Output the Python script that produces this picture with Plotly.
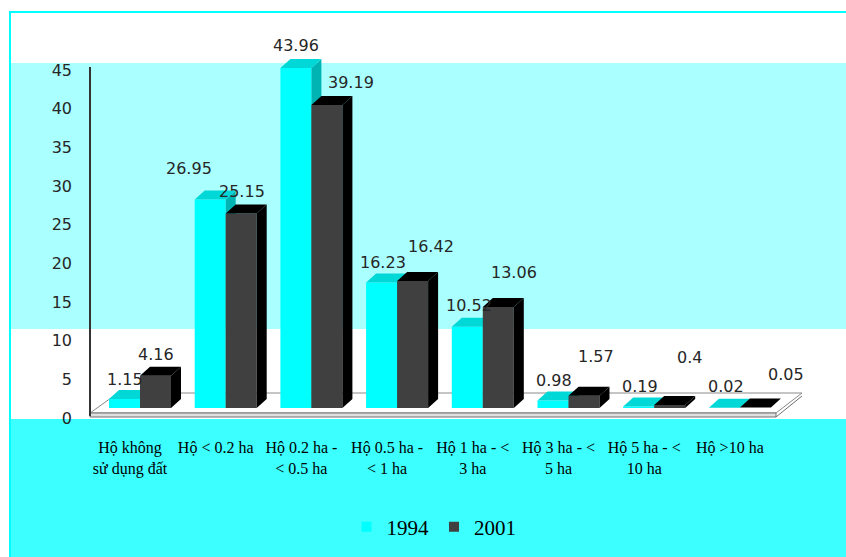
import plotly.graph_objects as go

# ---------------- data ----------------
categories = ["Hộ không\nsử dụng đất", "Hộ < 0.2 ha", "Hộ 0.2 ha -\n< 0.5 ha", "Hộ 0.5 ha -\n< 1 ha",
              "Hộ 1 ha - <\n3 ha", "Hộ 3 ha - <\n5 ha", "Hộ 5 ha - <\n10 ha", "Hộ >10 ha"]
series_names = ["1994", "2001"]
values_1994 = [1.15, 26.95, 43.96, 16.23, 10.52, 0.98, 0.19, 0.02]
values_2001 = [4.16, 25.15, 39.19, 16.42, 13.06, 1.57, 0.4, 0.05]
y_ticks = [0, 5, 10, 15, 20, 25, 30, 35, 40, 45]

# label offsets in pixels (x, y) relative to top-front-centre of each bar
lab_off_1994 = [(0, 20), (-21, 31), (0, 23), (1, 20), (2, 21), (1, 20), (1, 20), (2, 21)]
lab_off_2001 = [(0, 21), (1, 22), (24, 22), (18, 35), (16, 35), (12, 39), (20, 47), (31, 33)]

# ---------------- geometry (pixel layout) ----------------
W, H = 846, 557
PX_PER_CAT = 85.7
PX_PER_UNIT = 7.733
X0_PX = 140.0            # pixel of category 0 centre
BASE_PX = 408.0          # bar base pixel
TICK0_PX = 418.0         # pixel of "0" tick label
DOM_TOP, DOM_BOT = 45.0, 420.0

def fx(px):
    return px / W

def fy(py):
    return 1 - py / H

x_lo = -0.5
x_hi = 7.5
xdom = [fx(X0_PX + x_lo * PX_PER_CAT), fx(X0_PX + x_hi * PX_PER_CAT)]
ydom = [fy(DOM_BOT), fy(DOM_TOP)]
y_range = [(BASE_PX - DOM_BOT) / PX_PER_UNIT, (BASE_PX - DOM_TOP) / PX_PER_UNIT]
y2_range = [(TICK0_PX - DOM_BOT) / PX_PER_UNIT, (TICK0_PX - DOM_TOP) / PX_PER_UNIT]

BW = 31 / PX_PER_CAT           # bar width (category units)
DX = 10 / PX_PER_CAT           # depth offset x
DY = 9 / PX_PER_UNIT           # depth offset y

C_FRONT, C_TOP, C_SIDE = "#00FFFF", "#00D8D8", "#00B4B4"
D_FRONT, D_TOP, D_SIDE = "#404040", "#000000", "#000000"


def polys(vals, x_left_fn, kind):
    xs, ys = [], []
    for i, v in enumerate(vals):
        xl = x_left_fn(i)
        xr = xl + BW
        if kind == "front":
            px = [xl, xr, xr, xl, xl]
            py = [0, 0, v, v, 0]
        elif kind == "top":
            px = [xl, xr, xr + DX, xl + DX, xl]
            py = [v, v, v + DY, v + DY, v]
        else:  # side
            px = [xr, xr + DX, xr + DX, xr, xr]
            py = [0, DY, v + DY, v, 0]
        xs += px + [None]
        ys += py + [None]
    return xs, ys


fig = go.Figure()

def add_poly(vals, xl_fn, kind, color):
    xs, ys = polys(vals, xl_fn, kind)
    fig.add_trace(go.Scatter(x=xs, y=ys, mode="lines", fill="toself", fillcolor=color,
                             line=dict(width=0, color=color), showlegend=False,
                             hoverinfo="skip"))

cyan_left = lambda i: i - BW
dark_left = lambda i: i

add_poly(values_1994, cyan_left, "front", C_FRONT)
add_poly(values_1994, cyan_left, "side", C_SIDE)
add_poly(values_1994, cyan_left, "top", C_TOP)
add_poly(values_2001, dark_left, "front", D_FRONT)
add_poly(values_2001, dark_left, "side", D_SIDE)
add_poly(values_2001, dark_left, "top", D_TOP)

# legend entries
fig.add_trace(go.Scatter(x=[None], y=[None], mode="markers", name=series_names[0],
                         marker=dict(symbol="square", size=10, color=C_FRONT)))
fig.add_trace(go.Scatter(x=[None], y=[None], mode="markers", name=series_names[1],
                         marker=dict(symbol="square", size=10, color=D_FRONT)))
# dummy on tick axis
fig.add_trace(go.Scatter(x=[None], y=[None], yaxis="y2", showlegend=False, hoverinfo="skip"))

# data labels
annotations = []
for vals, offs, sign in ((values_1994, lab_off_1994, -1), (values_2001, lab_off_2001, 1)):
    for i, (v, (ox, oy)) in enumerate(zip(vals, offs)):
        annotations.append(dict(x=i + sign * BW / 2, y=v, xref="x", yref="y", text=f"{v:g}",
                                showarrow=False, xanchor="center", yanchor="middle",
                                xshift=ox, yshift=oy,
                                font=dict(family="DejaVu Sans", size=16, color="#262626")))

# background / decoration shapes
shapes = [
    dict(type="rect", xref="paper", yref="paper", x0=fx(10), x1=fx(846), y0=fy(63), y1=fy(329),
         fillcolor="#AAFFFF", line=dict(width=0), layer="below"),
    dict(type="rect", xref="paper", yref="paper", x0=fx(10), x1=fx(846), y0=fy(419), y1=fy(557),
         fillcolor="#3CFFFF", line=dict(width=0), layer="below"),
    dict(type="rect", xref="paper", yref="paper", x0=fx(10), x1=fx(850), y0=fy(12), y1=fy(560),
         fillcolor="rgba(0,0,0,0)", line=dict(width=2, color="#00FFFF"), layer="below"),
    # floor
    dict(type="path", xref="paper", yref="paper",
         path=f"M {fx(90)},{fy(413)} L {fx(776)},{fy(413)} L {fx(802)},{fy(393)} L {fx(118)},{fy(393)} Z",
         fillcolor="#FFFFFF", line=dict(width=1, color="#8A8A8A"), layer="below"),
    dict(type="path", xref="paper", yref="paper",
         path=f"M {fx(90)},{fy(413)} L {fx(776)},{fy(413)} L {fx(776)},{fy(417)} L {fx(90)},{fy(417)} Z",
         fillcolor="#E0E0E0", line=dict(width=1, color="#707070"), layer="below"),
    dict(type="line", xref="paper", yref="paper", x0=fx(776), x1=fx(802), y0=fy(417), y1=fy(396),
         line=dict(width=1, color="#707070"), layer="below"),
    # vertical axis line
    dict(type="line", xref="paper", yref="paper", x0=fx(90), x1=fx(90), y0=fy(67), y1=fy(416),
         line=dict(width=2, color="#333333"), layer="below"),
]

ticktext = [c.replace("<", "&lt;").replace(">", "&gt;").replace("\n", "<br>") for c in categories]
tickvals = [i - 10 / PX_PER_CAT for i in range(len(categories))]

fig.update_layout(
    width=W, height=H,
    margin=dict(l=0, r=0, t=0, b=0),
    paper_bgcolor="#FFFFFF", plot_bgcolor="rgba(0,0,0,0)",
    showlegend=True,
    xaxis=dict(domain=xdom, range=[x_lo, x_hi], tickvals=tickvals, ticktext=ticktext,
               showgrid=False, zeroline=False, showline=False, ticks="", automargin=False,
               ticklabelstandoff=16,
               tickfont=dict(family="Liberation Serif", size=16, color="#000000"), fixedrange=True),
    yaxis=dict(domain=ydom, range=y_range, visible=False, showgrid=False, zeroline=False,
               fixedrange=True),
    yaxis2=dict(overlaying="y", anchor="free", position=fx(90), side="left", range=y2_range,
                tickvals=y_ticks, showgrid=False, zeroline=False, showline=False, ticks="",
                automargin=False, ticklabelstandoff=18,
                tickfont=dict(family="DejaVu Sans", size=16, color="#262626"), fixedrange=True),
    legend=dict(orientation="h", x=fx(434), xanchor="center", y=fy(527), yanchor="middle",
                bgcolor="rgba(0,0,0,0)", font=dict(family="Liberation Serif", size=21, color="#000000"),
                itemwidth=30, tracegroupgap=0),
    annotations=annotations,
    shapes=shapes,
)

fig.write_html("out.html")
